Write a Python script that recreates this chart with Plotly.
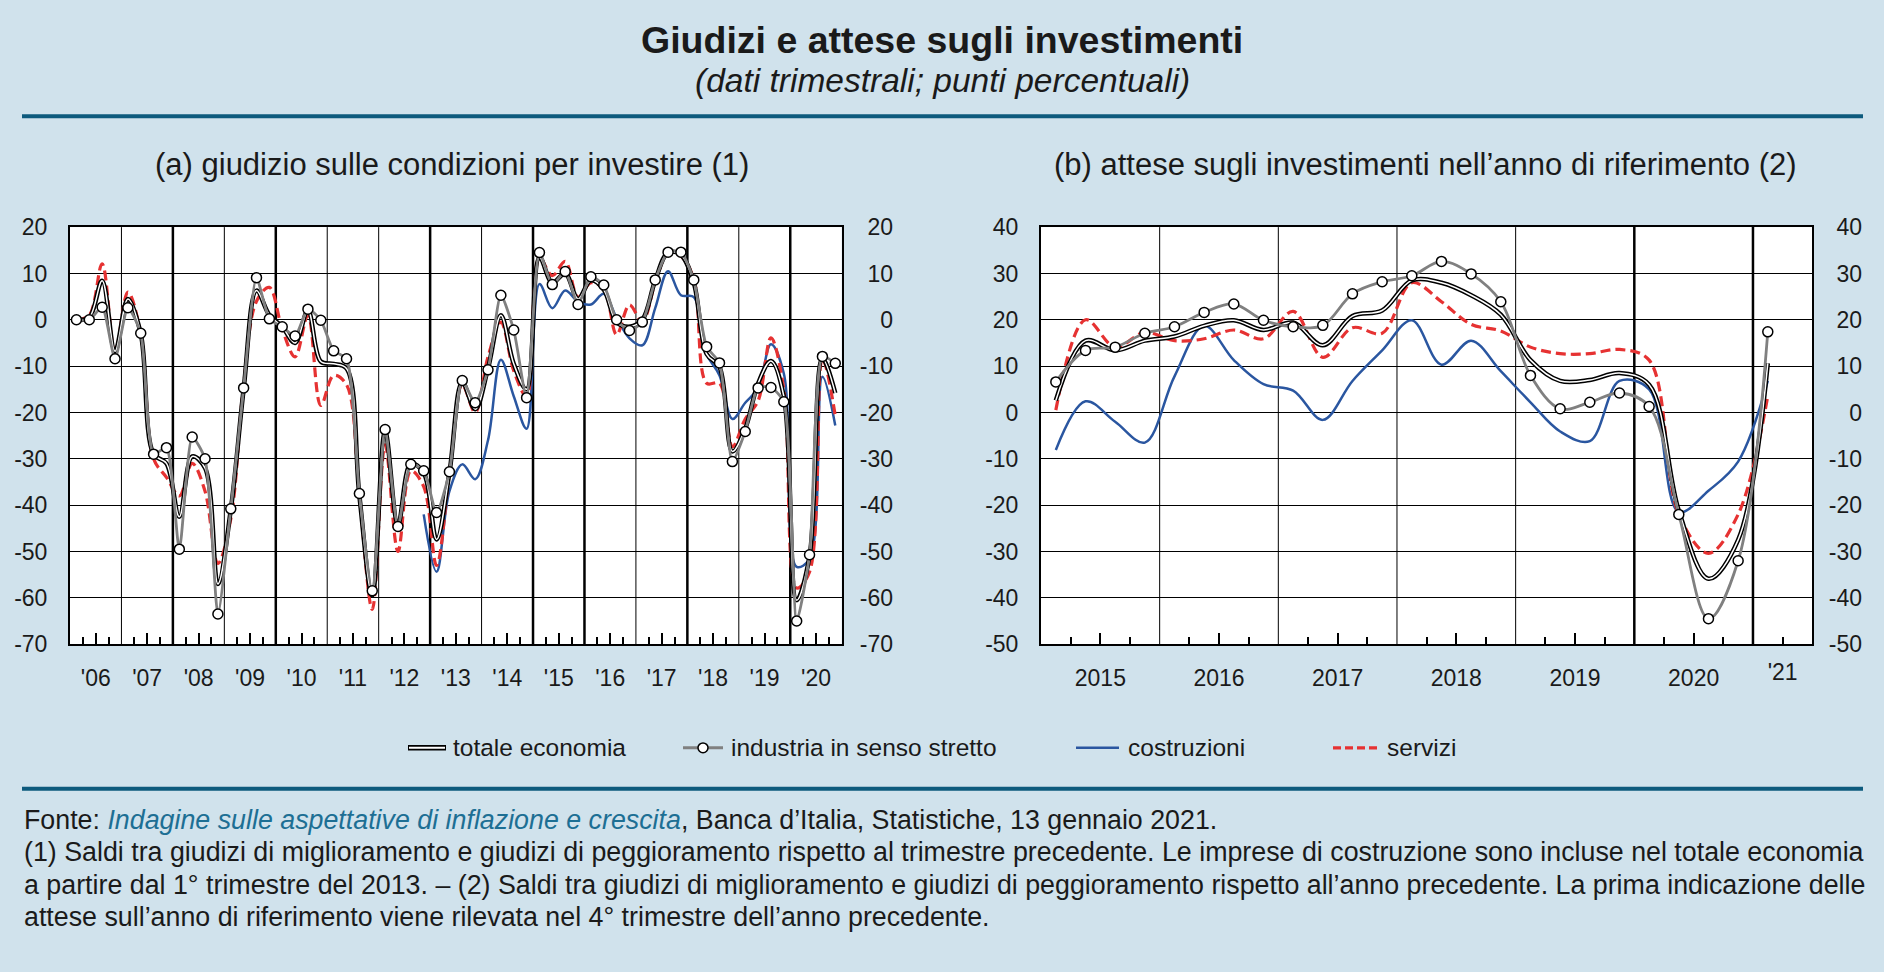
import plotly.graph_objects as go

# ---- data -------------------------------------------------------------
# (a) judgement on investment conditions, quarterly 2006Q1 - 2020Q4
quarters_a = [f"{y}Q{q}" for y in range(2006, 2021) for q in range(1, 5)]
tot_a = [0, 0.5, 8.4, -6.8, 4.5, -3, -29, -31, -42.5, -29.5, -32, -57,
         -41, -15, 6.3, 1, -1.5, -5, 2, -9, -9.5, -10.5, -38, -59.5,
         -24, -44.2, -31, -33, -47.4, -33, -13.5, -19.3, -10.5, 1, -9.5, -15,
         13.5, 8, 10, 4.5, 8.5, 6.5, -0.5, -1.5, 0, 8.5, 14.5, 14,
         8, -7.4, -10.2, -28.4, -23.5, -13.7, -8.9, -16.5, -60.5, -51, -8.4, -15.8]
ind_a = [0, 0, 2.7, -8.4, 2.6, -2.9, -29, -27.6, -49.5, -25.3, -30, -63.5,
         -40.8, -14.7, 9.1, 0.2, -1.5, -3.5, 2.3, -0.1, -6.7, -8.4, -37.5, -58.5,
         -23.7, -44.6, -31.2, -32.6, -41.6, -32.8, -13.1, -17.9, -10.8, 5.3, -2.2, -16.8,
         14.5, 7.6, 10.4, 3.3, 9.3, 7.5, 0, -2.3, -0.5, 8.6, 14.6, 14.6,
         8.6, -5.8, -9.3, -30.6, -24.1, -14.7, -14.6, -17.7, -65, -50.7, -7.9, -9.4]
cos_a = [None] * 27 + [-42, -54.4, -37, -31.2, -34.4, -26, -8.6, -16.5, -23.5,
                       7.7, 2.5, 6.3, 3.9, 3.3, 5.6, 0.4, -4, -5.5, 2.5, 10.5, 5.3,
                       4.9, -7.4, -12, -21.4, -17.9, -14.7, -5.3, -11.6, -53.3, -51.6,
                       -12.3, -22.8]
ser_a = [0, 1, 12.1, -7, 6, -3, -30, -34, -38, -31, -37, -52.6,
         -43, -14, 4, 7, -2, -8, 1, -18.5, -12, -14, -38, -62.5,
         -27, -50, -32.6, -36, -53, -33, -14, -20, -8, -0.5, -11, -16.5,
         13.3, 9.5, 12.6, 4.9, 8, 6.7, -3.2, 3.2, -0.4, 8, 14.4, 13.7,
         8.8, -13.7, -13.7, -27.4, -21.4, -17.5, -3.9, -15, -57.9, -54.4, -8.4, -20.7]

# (b) expected investment in the reference year, 2015Q1 - 2021Q1
quarters_b = [f"{y}Q{q}" for y in range(2015, 2021) for q in range(1, 5)] + ["2021Q1"]
tot_b = [2.6, 15.5, 13.4, 15.5, 16.4, 18.7, 19.9, 17.8, 19.4, 14.5, 20.8, 22,
         28.5, 28, 25.3, 21.1, 11.3, 6.8, 7, 8.5, 6, -21.2, -35.9, -27.5, 10.6]
ind_b = [6.6, 13.4, 14.1, 17.1, 18.5, 21.6, 23.4, 19.9, 18.5, 18.8, 25.6, 28.2,
         29.5, 32.6, 29.9, 23.9, 8.0, 0.8, 2.2, 4.2, 1.3, -22, -44.5, -32, 17.4]
cos_b = [-8.1, 2.4, -2, -6.5, 7.8, 18.7, 11.3, 6.1, 4.7, -1.6, 6.8, 13.4,
         19.9, 10.3, 15.5, 8.9, 2.2, -4.1, -6.2, 6.8, 5, -21.5, -16.9, -10.6, 6.8]
ser_b = [0.5, 20, 14.1, 17.3, 15.5, 15.9, 17.8, 15.9, 21.8, 11.9, 18.3, 17.1,
         28, 23.9, 19, 17.6, 14.1, 12.7, 12.7, 13.6, 11.3, -22, -30.4, -22, 3.6]

years_a = list(range(2006, 2021))
years_b = list(range(2015, 2021))
labels_a = ["'" + str(y)[2:] for y in years_a]
labels_b = [str(y) for y in years_b]
yticks_a = list(range(-70, 21, 10))
yticks_b = list(range(-50, 41, 10))
thick_a = [2008, 2010, 2013, 2015, 2016, 2018, 2020]
thick_b = [2020, 2021]

names = ["totale economia", "industria in senso stretto", "costruzioni", "servizi"]


def q_to_x(q):
    # middle of the quarter, in fractional years
    return int(q[:4]) + (int(q[-1]) - 1) / 4 + 0.125


x_a = [q_to_x(q) for q in quarters_a]
x_b = [q_to_x(q) for q in quarters_b]

BG = "#d0e2ec"
TEAL = "#0d5a7d"
BLUE = "#2a56a0"
RED = "#e63232"
GRAY = "#808080"
FONT = "Liberation Sans, Arial, sans-serif"
DASH = "10px,5px"

fig = go.Figure()


def add_panel(x, tot, ind, cos, ser, xa, ya, gray_smooth):
    fig.add_trace(go.Scatter(x=x, y=cos, xaxis=xa, yaxis=ya, mode="lines",
                             line=dict(color=BLUE, width=2.5, shape="spline", smoothing=1),
                             name=names[2]))
    fig.add_trace(go.Scatter(x=x, y=ser, xaxis=xa, yaxis=ya, mode="lines",
                             line=dict(color=RED, width=3.2, dash=DASH, shape="spline", smoothing=1),
                             name=names[3]))
    fig.add_trace(go.Scatter(x=x, y=tot, xaxis=xa, yaxis=ya, mode="lines",
                             line=dict(color="black", width=4.5, shape="spline", smoothing=1),
                             name=names[0]))
    fig.add_trace(go.Scatter(x=x, y=tot, xaxis=xa, yaxis=ya, mode="lines",
                             line=dict(color="white", width=1.5, shape="spline", smoothing=1),
                             hoverinfo="skip"))
    fig.add_trace(go.Scatter(x=x, y=ind, xaxis=xa, yaxis=ya, mode="lines+markers",
                             line=dict(color=GRAY, width=2.8, shape="spline", smoothing=gray_smooth),
                             marker=dict(symbol="circle", size=10, color="white",
                                         line=dict(color="black", width=1.5)),
                             name=names[1]))


add_panel(x_a, tot_a, ind_a, cos_a, ser_a, "x", "y", 0.6)
add_panel(x_b, tot_b, ind_b, cos_b, ser_b, "x2", "y2", 1.0)
# empty carriers so the extra label axes get drawn
fig.add_trace(go.Scatter(x=[None], y=[None], xaxis="x3", yaxis="y2", hoverinfo="skip"))
fig.add_trace(go.Scatter(x=[None], y=[None], xaxis="x", yaxis="y3", hoverinfo="skip"))
fig.add_trace(go.Scatter(x=[None], y=[None], xaxis="x2", yaxis="y4", hoverinfo="skip"))

W, H = 1884, 972
dom_y = [1 - 648.5 / H, 1 - 220 / H]
dom_a = [70 / W, 841.7 / W]
dom_b = [1041 / W, 1812.3 / W]

tickfont = dict(family=FONT, size=23, color="#1a1a1a")
frame = dict(showline=True, linecolor="black", linewidth=2, mirror=True, zeroline=False)


def xaxis(dom, rng, years, labels, yname, last):
    minor_vals = [y + f for y in years for f in (0.25, 0.75)]
    if last:
        minor_vals.append(years[-1] + 1.25)
    return dict(domain=dom, anchor=yname, range=rng, tickvals=[y + 0.5 for y in years],
                ticktext=labels, ticks="inside", ticklen=11, tickwidth=1.5, tickcolor="black",
                minor=dict(tickvals=minor_vals, ticks="inside", ticklen=7, tickwidth=1.5,
                           tickcolor="black", showgrid=False),
                showgrid=False, tickfont=tickfont, ticklabelstandoff=12, **frame)


def yaxis(dom, rng, xname, vals):
    return dict(domain=dom, anchor=xname, range=rng, tickvals=vals, ticktext=[str(v) for v in vals],
                showgrid=True, gridcolor="black", gridwidth=1, ticks="", tickfont=tickfont,
                ticklabelstandoff=16, **frame)


def yaxis_right(over, rng, pos, vals):
    # second copy of the labels, right aligned just outside the panel
    return dict(overlaying=over, side="left", anchor="free", position=pos, range=rng,
                tickvals=vals, ticktext=[str(v) for v in vals], showgrid=False,
                showline=False, zeroline=False, ticks="", tickfont=tickfont)


fig.update_layout(
    width=W, height=H, margin=dict(l=0, r=0, t=0, b=0),
    paper_bgcolor=BG, plot_bgcolor="white", showlegend=False,
    font=dict(family=FONT, color="#1a1a1a"),
    xaxis=xaxis(dom_a, [2006, 2021], years_a, labels_a, "y", False),
    xaxis2=xaxis(dom_b, [2015, 2021.5], years_b, labels_b, "y2", True),
    xaxis3=dict(overlaying="x2", anchor="y2", side="bottom", range=[2015, 2021.5],
                tickvals=[2021.25], ticktext=["'21"], ticks="", showgrid=False,
                showline=False, zeroline=False, tickfont=tickfont, ticklabelstandoff=12),
    yaxis=yaxis(dom_y, [-70, 20], "x", yticks_a),
    yaxis2=yaxis(dom_y, [-50, 40], "x2", yticks_b),
    yaxis3=yaxis_right("y", [-70, 20], 893 / W, yticks_a),
    yaxis4=yaxis_right("y2", [-50, 40], 1862 / W, yticks_b),
)

# year separators inside the panels
for yr in range(2007, 2021):
    fig.add_shape(type="line", xref="x", yref="y domain", x0=yr, x1=yr, y0=0, y1=1,
                  line=dict(color="black", width=2.5 if yr in thick_a else 1), layer="below")
for yr in range(2016, 2022):
    fig.add_shape(type="line", xref="x2", yref="y2 domain", x0=yr, x1=yr, y0=0, y1=1,
                  line=dict(color="black", width=2.5 if yr in thick_b else 1), layer="below")


def px(v):
    return v / W


def py(v):
    return 1 - v / H


def text(x, y, s, size, anchor="center"):
    fig.add_annotation(x=px(x), y=py(y), xref="paper", yref="paper", showarrow=False,
                       xanchor=anchor, yanchor="middle", text=s,
                       font=dict(size=size, family=FONT, color="#1a1a1a"))


# titles
text(942, 28, "<b>Giudizi e attese sugli investimenti</b>", 37.5)
text(942, 69, "<i>(dati trimestrali; punti percentuali)</i>", 33.5)
text(452, 156, "(a) giudizio sulle condizioni per investire (1)", 31)
text(1425, 156, "(b) attese sugli investimenti nell’anno di riferimento (2)", 31)

# separators
for yy in (106, 797):
    fig.add_shape(type="line", xref="paper", yref="paper", x0=px(22), x1=px(1863),
                  y0=py(yy), y1=py(yy), line=dict(color=TEAL, width=4))

# legend (drawn by hand to get the double line)
LY = 755
ly = py(LY)
fig.add_shape(type="line", xref="paper", yref="paper", x0=px(408), x1=px(446), y0=ly, y1=ly,
              line=dict(color="black", width=5.5))
fig.add_shape(type="line", xref="paper", yref="paper", x0=px(409), x1=px(445), y0=ly, y1=ly,
              line=dict(color="white", width=2))
fig.add_shape(type="line", xref="paper", yref="paper", x0=px(683), x1=px(723), y0=ly, y1=ly,
              line=dict(color=GRAY, width=3))
fig.add_shape(type="circle", xref="paper", yref="paper", x0=px(698), x1=px(708),
              y0=ly - 5 / H, y1=ly + 5 / H, fillcolor="white", line=dict(color="black", width=1.5))
fig.add_shape(type="line", xref="paper", yref="paper", x0=px(1076), x1=px(1119), y0=ly, y1=ly,
              line=dict(color=BLUE, width=2.5))
fig.add_shape(type="line", xref="paper", yref="paper", x0=px(1333), x1=px(1380), y0=ly, y1=ly,
              line=dict(color=RED, width=3.2, dash="8px,4px"))
for xx, nm in zip((451, 729, 1126, 1385), names):
    text(xx, LY, nm, 24.5, "left")

# notes
notes = [
    "Fonte: <i><span style='color:#1d6f94'>Indagine sulle aspettative di inflazione e crescita</span></i>, "
    "Banca d’Italia, Statistiche, 13 gennaio 2021.",
    "(1) Saldi tra giudizi di miglioramento e giudizi di peggioramento rispetto al trimestre precedente. "
    "Le imprese di costruzione sono incluse nel totale economia",
    "a partire dal 1° trimestre del 2013. – (2) Saldi tra giudizi di miglioramento e giudizi di peggioramento "
    "rispetto all’anno precedente. La prima indicazione delle",
    "attese sull’anno di riferimento viene rilevata nel 4° trimestre dell’anno precedente.",
]
for k, line in enumerate(notes):
    text(22, 829 + 33.4 * k, line, 26.8, "left")

fig.write_html("out.html", config={"displayModeBar": False},
               post_script="document.body.style.margin='0px';")
